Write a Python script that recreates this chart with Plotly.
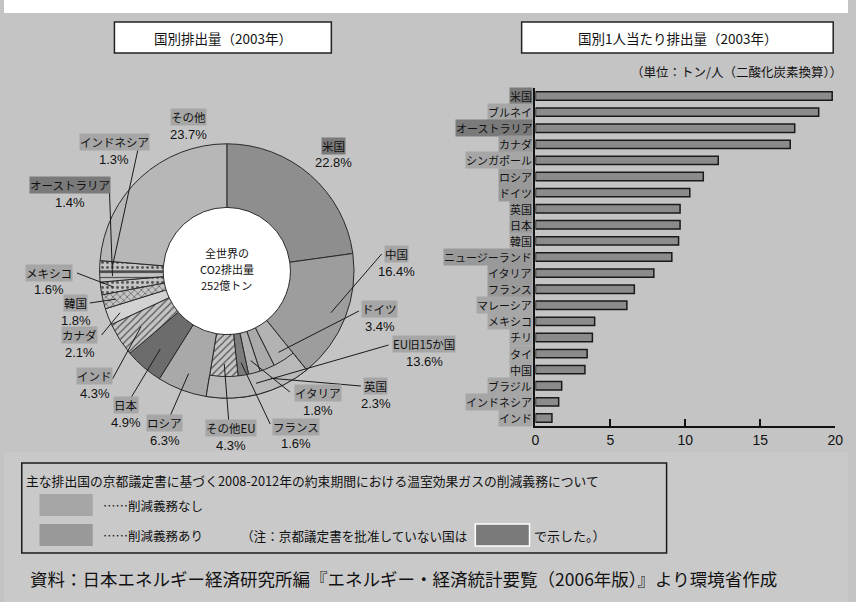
import math
import plotly.graph_objects as go

W, H = 856, 602

# ---------------- DATA ----------------
pie_labels = ["米国", "中国", "ドイツ", "英国", "イタリア", "フランス", "その他EU",
              "ロシア", "日本", "インド", "カナダ", "韓国", "メキシコ",
              "オーストラリア", "インドネシア", "その他"]
pie_values = [22.8, 16.4, 3.4, 2.3, 1.8, 1.6, 4.3,
              6.3, 4.9, 4.3, 2.1, 1.8, 1.6,
              1.4, 1.3, 23.7]
eu_members = ["ドイツ", "英国", "イタリア", "フランス", "その他EU"]
eu_label = "EU旧15か国"
eu_total = 13.6
world_total_text = ["全世界の", "CO2排出量", "252億トン"]

bar_countries = ["米国", "ブルネイ", "オーストラリア", "カナダ", "シンガポール", "ロシア",
                 "ドイツ", "英国", "日本", "韓国", "ニュージーランド", "イタリア",
                 "フランス", "マレーシア", "メキシコ", "チリ", "タイ", "中国",
                 "ブラジル", "インドネシア", "インド"]
bar_values = [19.8, 18.9, 17.3, 17.0, 12.2, 11.2,
              10.3, 9.65, 9.65, 9.55, 9.1, 7.9,
              6.6, 6.1, 3.95, 3.8, 3.45, 3.3,
              1.75, 1.55, 1.1]
x_ticks = [0, 5, 10, 15, 20]

not_ratified = ["米国", "オーストラリア"]
obligated = ["カナダ", "ロシア", "ドイツ", "英国", "日本", "ニュージーランド",
             "イタリア", "フランス", "その他EU", eu_label]

title_left = "国別排出量（2003年）"
title_right = "国別1人当たり排出量（2003年）"
unit_text = "（単位：トン/人（二酸化炭素換算））"
legend_title = "主な排出国の京都議定書に基づく2008-2012年の約束期間における温室効果ガスの削減義務について"
legend_none = "……削減義務なし"
legend_yes = "……削減義務あり"
legend_note_a = "（注：京都議定書を批准していない国は"
legend_note_b = "で示した。）"
source_text = "資料：日本エネルギー経済研究所編『エネルギー・経済統計要覧（2006年版）』より環境省作成"

# ---------------- STYLE / LAYOUT ----------------
FONT = "Noto Sans CJK JP"
BG = "#c4c4c4"
C_NONE = "#a6a6a6"
C_YES = "#999999"
C_NR = "#7a7a7a"

def X(px):
    return px / W

def Y(py):
    return 1 - py / H

def status_color(name):
    if name in not_ratified:
        return C_NR
    if name in obligated:
        return C_YES
    return C_NONE

# pie geometry (pixels)
PCX, PCY, PR = 226, 271, 129
HOLE = 0.5

slice_fill = {
    "米国": "#8e8e8e", "中国": "#9d9d9d", "ドイツ": "#b3b3b3", "英国": "#aaaaaa",
    "イタリア": "#b0b0b0", "フランス": "#7c7c7c", "その他EU": "#bdbdbd",
    "ロシア": "#a9a9a9", "日本": "#6c6c6c", "インド": "#b0b0b0", "カナダ": "#d2d2d2",
    "韓国": "#a0a0a0", "メキシコ": "#cfcfcf", "オーストラリア": "#c9c9c9",
    "インドネシア": "#d0d0d0", "その他": "#b7b7b7",
}
slice_pattern = {"インド": "/", "韓国": "x", "その他EU": "/", "メキシコ": ".",
                 "オーストラリア": "-", "インドネシア": "."}

# label box centre (px) for each pie label; leader start (px); target radius fraction
label_pos = {
    "米国": (334, 146, None, None),
    "中国": (398, 254, (383, 254), 0.88),
    "ドイツ": (381, 309, (360, 311), 0.75),
    eu_label: (426, 344, (390, 345), 0.9),
    "英国": (377, 386, (362, 386), 0.9),
    "イタリア": (318, 393, (290, 392), 0.72),
    "フランス": (296, 427, (270, 424), 0.72),
    "その他EU": (230, 428, (228, 422), 0.72),
    "ロシア": (163, 423, (168, 417), 0.85),
    "日本": (124, 405, (128, 399), 0.8),
    "インド": (92, 376, (110, 379), 0.8),
    "カナダ": (77, 335, (99, 335), 0.9),
    "韓国": (73, 303, (87, 303), 0.9),
    "メキシコ": (46, 273, (74, 273), 0.9),
    "オーストラリア": (67, 185, (107, 192), 0.9),
    "インドネシア": (112, 142, (136, 149), 0.9),
    "その他": (187, 117, None, None),
}

# ---------------- FIGURE ----------------
fig = go.Figure()

fills = [slice_fill[n] for n in pie_labels]
shapes_p = [slice_pattern.get(n, "") for n in pie_labels]
fig.add_trace(go.Pie(
    labels=pie_labels, values=pie_values, sort=False, direction="clockwise",
    rotation=0, hole=HOLE, textinfo="none", hoverinfo="label+value",
    marker=dict(colors=fills, line=dict(color="#2a2a2a", width=1),
                pattern=dict(shape=shapes_p, fgcolor="#555555", size=5, solidity=0.25)),
    domain=dict(x=[X(PCX - PR), X(PCX + PR)], y=[Y(PCY + PR), Y(PCY - PR)]),
    showlegend=False,
))

# outer EU band
eu_idx = [pie_labels.index(n) for n in eu_members]
before = sum(pie_values[:eu_idx[0]])
eu_sum = sum(pie_values[i] for i in eu_idx)
after = sum(pie_values[eu_idx[-1] + 1:])
fig.add_trace(go.Pie(
    labels=["a", eu_label, "b"], values=[before, eu_sum, after], sort=False,
    direction="clockwise", rotation=0, hole=0.83, textinfo="none", hoverinfo="skip",
    marker=dict(colors=["rgba(0,0,0,0)", "#b9b9b9", "rgba(0,0,0,0)"],
                line=dict(color="#2a2a2a", width=[0, 1, 0])),
    domain=dict(x=[X(PCX - PR), X(PCX + PR)], y=[Y(PCY + PR), Y(PCY - PR)]),
    showlegend=False,
))

# bar chart
fig.add_trace(go.Bar(
    x=bar_values, y=bar_countries, orientation="h", width=0.52,
    marker=dict(color="#8b8b8b", line=dict(color="#1a1a1a", width=1.5)),
    showlegend=False, hoverinfo="x+y",
))

shapes = []
ann = []

def text(xp, yp, t, size=11, xanchor="center", family=FONT, **kw):
    d = dict(x=X(xp), y=Y(yp), xref="paper", yref="paper", text=t, showarrow=False,
             xanchor=xanchor, yanchor="middle",
             font=dict(family=family, size=size, color="#111"))
    d.update(kw)
    ann.append(d)

# background panel + top white strip
shapes.append(dict(type="rect", xref="paper", yref="paper", x0=0, x1=1, y0=Y(602), y1=Y(452),
                   fillcolor="#c9c9c9", line=dict(width=0), layer="below"))
shapes.append(dict(type="rect", xref="paper", yref="paper", x0=0, x1=1, y0=Y(13), y1=1,
                   fillcolor="#ffffff", line=dict(width=0), layer="below"))

# white hole
r_h = PR * HOLE + 1
shapes.append(dict(type="circle", xref="paper", yref="paper",
                   x0=X(PCX - r_h), x1=X(PCX + r_h), y0=Y(PCY + r_h), y1=Y(PCY - r_h),
                   fillcolor="white", line=dict(width=0), layer="below"))
for i, t in enumerate(world_total_text):
    text(PCX, 253 + 16 * i, t, size=11)

# title boxes
for (x0, x1, txt) in [(112, 332, title_left), (525, 841, title_right)]:
    shapes.append(dict(type="rect", xref="paper", yref="paper", x0=X(x0), x1=X(x1),
                       y0=Y(53), y1=Y(22), fillcolor="white",
                       line=dict(color="#222", width=1.5)))
    text((x0 + x1) / 2, 37.5, txt, size=13.5)

text(852, 71, unit_text, size=12.5, xanchor="right")

# pie labels
pct_by_label = dict(zip(pie_labels, pie_values))
pct_by_label[eu_label] = eu_total
cum = 0.0
total = sum(pie_values)
mid_angle = {}
for n, v in zip(pie_labels, pie_values):
    mid_angle[n] = (cum + v / 2) / total * 360
    cum += v
mid_angle[eu_label] = (before + eu_sum / 2) / total * 360

for name, (cx, cy, start, rf) in label_pos.items():
    box_col = C_NR if name in not_ratified else C_NONE
    text(cx, cy, name, size=11.5, bgcolor=box_col, borderpad=0)
    text(cx, cy + 17, f"{pct_by_label[name]:.1f}%", size=13, family="Liberation Sans")
    if start is not None:
        a = math.radians(mid_angle[name])
        tx = PCX + rf * PR * math.sin(a)
        ty = PCY - rf * PR * math.cos(a)
        shapes.append(dict(type="line", xref="paper", yref="paper",
                           x0=X(start[0]), y0=Y(start[1]), x1=X(tx), y1=Y(ty),
                           line=dict(color="#1a1a1a", width=1)))

# bar category labels
for name in bar_countries:
    ann.append(dict(x=X(537), y=name, xref="paper", yref="y", text=name, showarrow=False,
                    xanchor="right", yanchor="middle", bgcolor=status_color(name), borderpad=0,
                    font=dict(family=FONT, size=11, color="#111")))

# legend box
shapes.append(dict(type="rect", xref="paper", yref="paper", x0=X(18), x1=X(672),
                   y0=Y(553), y1=Y(463), line=dict(color="#1a1a1a", width=1.5),
                   fillcolor="rgba(0,0,0,0)"))
text(20, 480, legend_title, size=12.8, xanchor="left")
for (y0, y1, col, txt) in [(494, 516, C_NONE, legend_none), (524, 546, C_YES, legend_yes)]:
    shapes.append(dict(type="rect", xref="paper", yref="paper", x0=X(36), x1=X(90),
                       y0=Y(y1), y1=Y(y0), fillcolor=col, line=dict(width=0)))
    text(98, (y0 + y1) / 2, txt, size=12.5, xanchor="left")
text(238, 535, legend_note_a, size=12.6, xanchor="left")
shapes.append(dict(type="rect", xref="paper", yref="paper", x0=X(478), x1=X(533),
                   y0=Y(546), y1=Y(524), fillcolor=C_NR, line=dict(color="white", width=1.5)))
text(535, 535, legend_note_b, size=13, xanchor="left")

text(24, 578, source_text, size=17.5, xanchor="left")

fig.update_layout(
    width=W, height=H, margin=dict(l=0, r=0, t=0, b=0),
    paper_bgcolor=BG, plot_bgcolor="rgba(0,0,0,0)",
    shapes=shapes, annotations=ann, bargap=0.5,
    xaxis=dict(domain=[X(539), X(843)], range=[0, 20], tickvals=x_ticks,
               ticks="inside", ticklen=7, tickwidth=1.5, tickcolor="#111",
               showline=True, linecolor="#111", linewidth=1.5, showgrid=False,
               zeroline=False, tickfont=dict(family="Liberation Sans", size=14, color="#111"),
               fixedrange=True),
    yaxis=dict(domain=[Y(426), Y(88)], categoryorder="array", categoryarray=bar_countries,
               range=[20.5, -0.5], showline=True, linecolor="#111", linewidth=1.5,
               showticklabels=False, ticks="", showgrid=False, zeroline=False, fixedrange=True),
)

fig.write_html("out.html")
